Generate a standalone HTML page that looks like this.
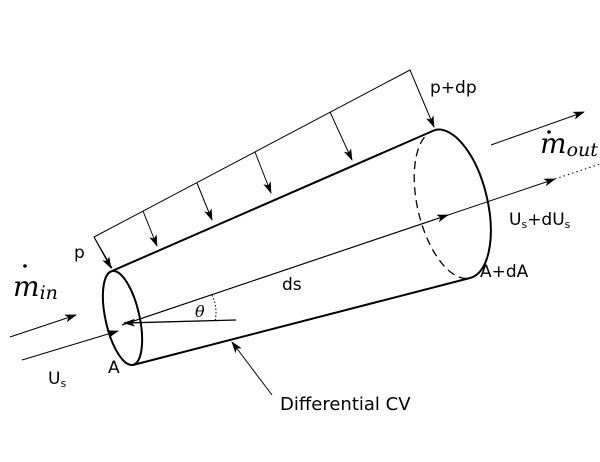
<!DOCTYPE html>
<html><head><style>body{margin:0;background:#fff}svg{display:block}</style></head><body>
<svg width="600" height="462" viewBox="0 0 600 462" xmlns="http://www.w3.org/2000/svg" font-family="'DejaVu Sans','Liberation Sans',sans-serif">
<defs><marker id="a" markerWidth="12" markerHeight="8" refX="11" refY="4" orient="auto" markerUnits="userSpaceOnUse"><path d="M0,0 L12,4 L0,8 L3,4 Z" fill="#000"/></marker></defs>
<g stroke="#000" fill="none">
<path d="M112,268 L94,237 L410,70 L434,127" stroke-width="1" marker-end="url(#a)"/>
<path d="M94,237 L111,268" stroke-width="1" marker-end="url(#a)"/>
<path d="M143,211 L157,246" stroke-width="1" marker-end="url(#a)"/>
<path d="M197,183 L212,220" stroke-width="1" marker-end="url(#a)"/>
<path d="M255,152 L271,193" stroke-width="1" marker-end="url(#a)"/>
<path d="M330,112 L352,160" stroke-width="1" marker-end="url(#a)"/>
<line x1="112" y1="271" x2="435" y2="130" stroke-width="2"/>
<line x1="133" y1="365" x2="470" y2="278" stroke-width="2"/>
<ellipse cx="122.5" cy="318" rx="17" ry="48" transform="rotate(-12.6 122.5 318)" stroke-width="2"/>
<path d="M435,130 A35,76 -13.3 0 1 470,278" stroke-width="2"/>
<path d="M435,130 A35,76 -13.3 0 0 470,278" stroke-width="1.3" stroke-dasharray="8,5"/>
<path d="M122,325 L555,179" stroke-width="1" marker-end="url(#a)"/>
<path d="M122,325 L448,215" stroke-width="1" marker-end="url(#a)"/>
<path d="M555,179 L600,164" stroke-width="1" stroke-dasharray="1.5,3"/>
<path d="M236,320 L124,323" stroke-width="1.3" marker-end="url(#a)"/>
<path d="M212,295 Q218,308 215,321" stroke-width="1" stroke-dasharray="1.5,2"/>
<path d="M10,337 L76,315" stroke-width="1" marker-end="url(#a)"/>
<path d="M22,360 L118,331" stroke-width="1" marker-end="url(#a)"/>
<path d="M491,145 L584,112" stroke-width="1" marker-end="url(#a)"/>
<path d="M272,395 L232,342" stroke-width="1" marker-end="url(#a)"/>
</g>
<g fill="#000" font-size="17">
<text x="74" y="258">p</text>
<text x="430" y="93">p+dp</text>
<text x="48" y="384">U<tspan font-size="11" dy="3">s</tspan></text>
<text x="108" y="373">A</text>
<text x="282" y="290">ds</text>
<text x="509" y="225">U<tspan font-size="11" dy="3">s</tspan><tspan dy="-3">+dU</tspan><tspan font-size="11" dy="3">s</tspan></text>
<text x="480" y="277">A+dA</text>
<text x="280" y="410" font-size="18">Differential CV</text>
</g>
<g fill="#000" font-family="'DejaVu Serif','Liberation Serif',serif" font-style="italic">
<text x="13" y="296" font-size="28">m<tspan font-size="19" dy="3">in</tspan></text>
<circle cx="25" cy="266" r="1.8"/>
<text x="540" y="153" font-size="28">m<tspan font-size="19" dy="3">out</tspan></text>
<circle cx="549" cy="132" r="1.8"/>
<text x="195" y="317" font-size="16">θ</text>
</g>
</svg>
</body></html>
